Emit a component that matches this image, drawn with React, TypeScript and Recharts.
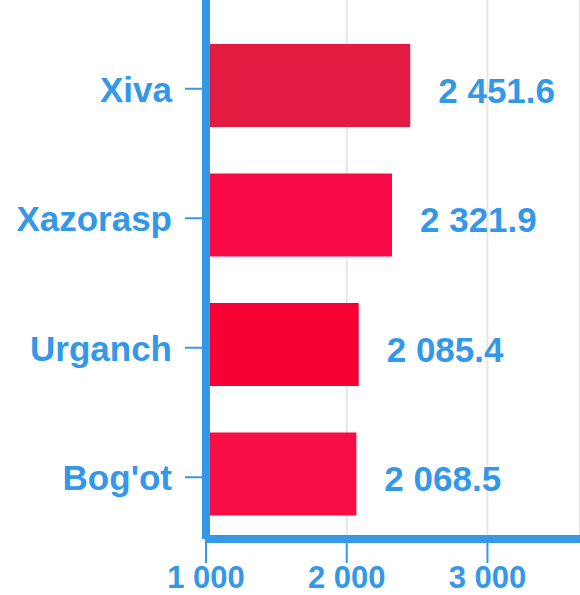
import { BarChart, Bar, XAxis, YAxis, CartesianGrid, Cell, LabelList } from 'recharts';

const districts = ['Xiva', 'Xazorasp', 'Urganch', "Bog'ot"];
const values = [2451.6, 2321.9, 2085.4, 2068.5];
const barColors = ['#e31b43', '#f70a47', '#f70034', '#f70c45'];
const xTicks = [1000, 2000, 3000];

const BLUE = '#3498e8';
const FONT = '"Liberation Sans", Arial, sans-serif';

const fmt = (v: number, digits: number) => {
  const [intPart, dec] = v.toFixed(digits).split('.');
  const grouped = intPart.replace(/\B(?=(\d{3})+(?!\d))/g, ' ');
  return dec ? `${grouped}.${dec}` : grouped;
};

const data = districts.map((name, i) => ({ name, value: values[i] }));

const YTick = ({ x, y, payload }: any) => (
  <g>
    <line x1={x - 13} x2={x + 4} y1={y + 3} y2={y + 3} stroke={BLUE} strokeWidth={2} />
    <text
      x={x - 26}
      y={y + 16}
      textAnchor="end"
      fill={BLUE}
      fontFamily={FONT}
      fontWeight="bold"
      fontSize={35}
    >
      {payload.value}
    </text>
  </g>
);

const XTick = ({ x, payload }: any) => (
  <text x={x} y={588} textAnchor="middle" fill={BLUE} fontFamily={FONT} fontWeight="bold" fontSize={31}>
    {fmt(payload.value, 0)}
  </text>
);

const ValueLabel = ({ x, y, width, height, value }: any) => (
  <text
    x={x + width + 28}
    y={y + height / 2 + 17}
    fill={BLUE}
    fontFamily={FONT}
    fontWeight="bold"
    fontSize={35}
  >
    {fmt(value, 1)}
  </text>
);

export default function App() {
  return (
    <div style={{ position: 'absolute', left: 0, top: 0, width: 580, height: 595, background: '#fff' }}>
      <BarChart
        width={580}
        height={595}
        data={data}
        layout="vertical"
        margin={{ top: 0, right: 0, bottom: 0, left: 0 }}
      >
        <CartesianGrid horizontal={false} stroke="#e6e6e6" strokeWidth={2} />
        <XAxis
          type="number"
          domain={[1000, 3658]}
          ticks={xTicks}
          allowDataOverflow
          height={56}
          axisLine={{ stroke: BLUE, strokeWidth: 8 }}
          tickLine={{ stroke: BLUE, strokeWidth: 2 }}
          tickSize={24}
          tick={<XTick />}
        />
        <YAxis
          type="category"
          dataKey="name"
          width={206}
          padding={{ top: 21, bottom: 0 }}
          axisLine={{ stroke: BLUE, strokeWidth: 8 }}
          tickLine={false}
          tick={<YTick />}
        />
        <Bar dataKey="value" barSize={83} isAnimationActive={false}>
          {data.map((d, i) => (
            <Cell key={d.name} fill={barColors[i]} />
          ))}
          <LabelList dataKey="value" content={<ValueLabel />} />
        </Bar>
      </BarChart>
    </div>
  );
}
